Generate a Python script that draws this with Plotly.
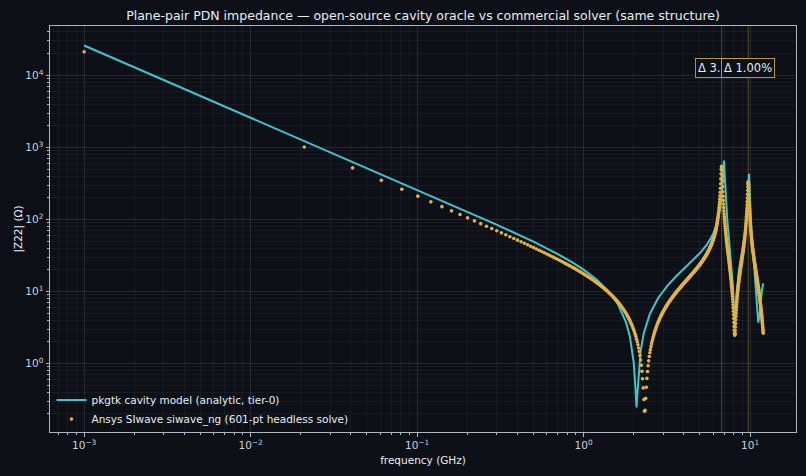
import math
import plotly.graph_objects as go

TITLE = "Plane-pair PDN impedance — open-source cavity oracle vs commercial solver (same structure)"
MODEL_NAME = "pkgtk cavity model (analytic, tier-0)"
SOLVER_NAME = "Ansys SIwave siwave_ng (601-pt headless solve)"
X_TITLE = "frequency (GHz)"
Y_TITLE = "|Z22| (Ω)"

# analytic cavity model (cyan line)
MODEL_FREQ_GHZ = [
    0.001, 0.01, 0.1, 0.2, 0.3, 0.5, 0.7, 0.85, 1.0, 1.2,
    1.4, 1.6, 1.8, 1.9, 2.0, 2.05, 2.08, 2.1, 2.15, 2.2,
    2.3, 2.5, 2.8, 3.2, 3.6, 4.0, 4.5, 5.0, 5.5, 6.0,
    6.3, 6.5, 6.6, 6.7, 6.75, 6.85, 6.9, 6.97, 7.0, 7.05,
    7.1, 7.2, 7.3, 7.45, 7.6, 7.75, 7.9, 8.0, 8.1, 8.2,
    8.3, 8.6, 9.0, 9.3, 9.5, 9.7, 9.8, 9.85, 9.9, 10.0,
    10.2, 10.5, 10.8, 11.0, 11.2, 11.4, 11.6, 11.8, 12.0,
]
MODEL_Z_OHM = [
    26000, 2600, 259.4, 128.8, 84.9, 49.1, 33.1, 25.6, 20.1, 14.6,
    10.3, 6.77, 3.72, 2.33, 1.04, 0.45, 0.245, 0.35, 0.89, 1.48,
    2.64, 4.88, 8.08, 12.2, 16.3, 20.7, 26.7, 34.2, 44.6, 62.7,
    84.2, 111.6, 135.8, 176.2, 208.5, 333.6, 465.3, 657, 583.5, 391.5,
    267.4, 150.6, 97.9, 57.9, 35.8, 21.4, 11.2, 6.03, 3.3, 5.49,
    9.2, 20.7, 38.6, 61.6, 94.0, 193.7, 359.6, 431, 343.4, 170.5,
    69.8, 28.9, 12.2, 5.5, 3.7, 4.6, 7.7, 10.5, 13.0,
]

# commercial solver sweep (orange dots), 601 points
SOLVER_FREQ_MHZ = [
    1, 21, 41, 61, 81, 101, 121, 141, 161, 181,
    201, 221, 241, 261, 281, 301, 321, 341, 361, 381,
    401, 421, 441, 461, 481, 501, 521, 541, 561, 581,
    601, 621, 641, 661, 681, 701, 721, 741, 761, 781,
    801, 821, 841, 861, 881, 901, 921, 941, 961, 981,
    1001, 1021, 1041, 1061, 1081, 1101, 1121, 1141, 1161, 1181,
    1201, 1221, 1241, 1261, 1281, 1301, 1321, 1341, 1361, 1381,
    1401, 1421, 1441, 1461, 1481, 1501, 1521, 1541, 1561, 1581,
    1601, 1621, 1641, 1661, 1681, 1701, 1721, 1741, 1761, 1781,
    1801, 1821, 1841, 1861, 1881, 1901, 1921, 1941, 1961, 1981,
    2001, 2021, 2041, 2061, 2081, 2101, 2121, 2141, 2161, 2181,
    2201, 2221, 2241, 2261, 2281, 2301, 2321, 2341, 2361, 2381,
    2401, 2421, 2441, 2461, 2481, 2501, 2521, 2541, 2561, 2581,
    2601, 2621, 2641, 2661, 2681, 2701, 2721, 2741, 2761, 2781,
    2801, 2821, 2841, 2861, 2881, 2901, 2921, 2941, 2961, 2981,
    3001, 3021, 3041, 3061, 3081, 3101, 3121, 3141, 3161, 3181,
    3201, 3221, 3241, 3261, 3281, 3301, 3321, 3341, 3361, 3381,
    3401, 3421, 3441, 3461, 3481, 3501, 3521, 3541, 3561, 3581,
    3601, 3621, 3641, 3661, 3681, 3701, 3721, 3741, 3761, 3781,
    3801, 3821, 3841, 3861, 3881, 3901, 3921, 3941, 3961, 3981,
    4001, 4021, 4041, 4061, 4081, 4101, 4121, 4141, 4161, 4181,
    4201, 4221, 4241, 4261, 4281, 4301, 4321, 4341, 4361, 4381,
    4401, 4421, 4441, 4461, 4481, 4501, 4521, 4541, 4561, 4581,
    4601, 4621, 4641, 4661, 4681, 4701, 4721, 4741, 4761, 4781,
    4801, 4821, 4841, 4861, 4881, 4901, 4921, 4941, 4961, 4981,
    5001, 5021, 5041, 5061, 5081, 5101, 5121, 5141, 5161, 5181,
    5201, 5221, 5241, 5261, 5281, 5301, 5321, 5341, 5361, 5381,
    5401, 5421, 5441, 5461, 5481, 5501, 5521, 5541, 5561, 5581,
    5601, 5621, 5641, 5661, 5681, 5701, 5721, 5741, 5761, 5781,
    5801, 5821, 5841, 5861, 5881, 5901, 5921, 5941, 5961, 5981,
    6001, 6021, 6041, 6061, 6081, 6101, 6121, 6141, 6161, 6181,
    6201, 6221, 6241, 6261, 6281, 6301, 6321, 6341, 6361, 6381,
    6401, 6421, 6441, 6461, 6481, 6501, 6521, 6541, 6561, 6581,
    6601, 6621, 6641, 6661, 6681, 6701, 6721, 6741, 6761, 6781,
    6801, 6821, 6841, 6861, 6881, 6901, 6921, 6941, 6961, 6981,
    7001, 7021, 7041, 7061, 7081, 7101, 7121, 7141, 7161, 7181,
    7201, 7221, 7241, 7261, 7281, 7301, 7321, 7341, 7361, 7381,
    7401, 7421, 7441, 7461, 7481, 7501, 7521, 7541, 7561, 7581,
    7601, 7621, 7641, 7661, 7681, 7701, 7721, 7741, 7761, 7781,
    7801, 7821, 7841, 7861, 7881, 7901, 7921, 7941, 7961, 7981,
    8001, 8021, 8041, 8061, 8081, 8101, 8121, 8141, 8161, 8181,
    8201, 8221, 8241, 8261, 8281, 8301, 8321, 8341, 8361, 8381,
    8401, 8421, 8441, 8461, 8481, 8501, 8521, 8541, 8561, 8581,
    8601, 8621, 8641, 8661, 8681, 8701, 8721, 8741, 8761, 8781,
    8801, 8821, 8841, 8861, 8881, 8901, 8921, 8941, 8961, 8981,
    9001, 9021, 9041, 9061, 9081, 9101, 9121, 9141, 9161, 9181,
    9201, 9221, 9241, 9261, 9281, 9301, 9321, 9341, 9361, 9381,
    9401, 9421, 9441, 9461, 9481, 9501, 9521, 9541, 9561, 9581,
    9601, 9621, 9641, 9661, 9681, 9701, 9721, 9741, 9761, 9781,
    9801, 9821, 9841, 9861, 9881, 9901, 9921, 9941, 9961, 9981,
    10001, 10021, 10041, 10061, 10081, 10101, 10121, 10141, 10161, 10181,
    10201, 10221, 10241, 10261, 10281, 10301, 10321, 10341, 10361, 10381,
    10401, 10421, 10441, 10461, 10481, 10501, 10521, 10541, 10561, 10581,
    10601, 10621, 10641, 10661, 10681, 10701, 10721, 10741, 10761, 10781,
    10801, 10821, 10841, 10861, 10881, 10901, 10921, 10941, 10961, 10981,
    11001, 11021, 11041, 11061, 11081, 11101, 11121, 11141, 11161, 11181,
    11201, 11221, 11241, 11261, 11281, 11301, 11321, 11341, 11361, 11381,
    11401, 11421, 11441, 11461, 11481, 11501, 11521, 11541, 11561, 11581,
    11601, 11621, 11641, 11661, 11681, 11701, 11721, 11741, 11761, 11781,
    11801, 11821, 11841, 11861, 11881, 11901, 11921, 11941, 11961, 11981,
    12001,
]
SOLVER_Z_OHM = [
    21300, 1014, 519.4, 349.0, 262.7, 210.5, 175.6, 150.5, 131.7, 117.0,
    105.2, 95.56, 87.49, 80.64, 74.76, 69.65, 65.17, 61.20, 57.66, 54.50,
    51.64, 49.03, 46.67, 44.49, 42.50, 40.66, 38.95, 37.37, 35.89, 34.51,
    33.21, 32.00, 30.85, 29.77, 28.76, 27.79, 26.87, 25.99, 25.17, 24.37,
    23.62, 22.89, 22.21, 21.54, 20.91, 20.29, 19.71, 19.14, 18.58, 18.06,
    17.54, 17.04, 16.57, 16.10, 15.66, 15.22, 14.80, 14.39, 13.99, 13.60,
    13.23, 12.86, 12.50, 12.15, 11.81, 11.48, 11.15, 10.83, 10.52, 10.22,
    9.92, 9.62, 9.34, 9.06, 8.78, 8.51, 8.24, 7.98, 7.73, 7.47,
    7.23, 6.98, 6.74, 6.51, 6.27, 6.04, 5.82, 5.59, 5.37, 5.16,
    4.94, 4.73, 4.52, 4.32, 4.11, 3.91, 3.71, 3.51, 3.31, 3.12,
    2.93, 2.74, 2.55, 2.37, 2.18, 2.00, 1.82, 1.64, 1.47, 1.29,
    1.12, 0.947, 0.781, 0.616, 0.459, 0.317, 0.218, 0.224, 0.329, 0.470,
    0.622, 0.776, 0.934, 1.09, 1.25, 1.41, 1.56, 1.72, 1.88, 2.04,
    2.19, 2.35, 2.50, 2.65, 2.81, 2.96, 3.11, 3.27, 3.42, 3.57,
    3.72, 3.87, 4.02, 4.17, 4.32, 4.47, 4.62, 4.77, 4.92, 5.07,
    5.22, 5.37, 5.52, 5.67, 5.81, 5.96, 6.11, 6.26, 6.41, 6.56,
    6.71, 6.86, 7.01, 7.16, 7.31, 7.46, 7.61, 7.76, 7.91, 8.06,
    8.21, 8.36, 8.51, 8.67, 8.82, 8.97, 9.12, 9.28, 9.43, 9.58,
    9.74, 9.90, 10.05, 10.21, 10.37, 10.52, 10.68, 10.84, 11.00, 11.16,
    11.32, 11.48, 11.65, 11.81, 11.97, 12.14, 12.31, 12.47, 12.64, 12.81,
    12.98, 13.15, 13.32, 13.50, 13.67, 13.84, 14.02, 14.20, 14.38, 14.56,
    14.74, 14.93, 15.11, 15.30, 15.49, 15.67, 15.87, 16.06, 16.26, 16.45,
    16.65, 16.85, 17.05, 17.26, 17.46, 17.67, 17.88, 18.10, 18.31, 18.53,
    18.74, 18.97, 19.20, 19.43, 19.65, 19.88, 20.12, 20.37, 20.61, 20.85,
    21.09, 21.35, 21.61, 21.87, 22.13, 22.39, 22.67, 22.95, 23.23, 23.51,
    23.79, 24.10, 24.40, 24.71, 25.01, 25.32, 25.65, 25.98, 26.32, 26.65,
    26.98, 27.35, 27.72, 28.09, 28.46, 28.83, 29.24, 29.65, 30.06, 30.47,
    30.88, 31.35, 31.81, 32.28, 32.74, 33.20, 33.74, 34.27, 34.80, 35.33,
    35.86, 36.48, 37.10, 37.71, 38.33, 38.94, 39.68, 40.41, 41.14, 41.86,
    42.59, 43.48, 44.36, 45.24, 46.12, 47.01, 48.11, 49.20, 50.30, 51.39,
    52.37, 53.62, 54.94, 56.33, 57.79, 59.34, 60.98, 62.72, 64.57, 66.54,
    68.65, 70.91, 73.33, 75.95, 78.77, 81.83, 85.16, 88.80, 92.78, 97.18,
    102.1, 107.5, 113.6, 120.4, 128.2, 137.2, 147.5, 159.7, 174.0, 191.3,
    212.2, 238.2, 270.9, 312.6, 365.4, 430.2, 499.2, 546.0, 537.6, 478.2,
    403.8, 337.3, 284.1, 242.6, 210.1, 184.2, 163.4, 146.3, 132.0, 120.0,
    109.9, 101.7, 94.17, 87.18, 80.72, 74.78, 70.19, 65.88, 61.84, 58.04,
    54.50, 51.53, 48.72, 46.07, 43.56, 41.18, 39.07, 37.07, 35.17, 33.37,
    31.67, 30.07, 28.56, 27.12, 25.75, 24.44, 23.17, 21.96, 20.82, 19.73,
    18.71, 17.65, 16.65, 15.70, 14.81, 13.96, 13.05, 12.20, 11.41, 10.66,
    9.96, 9.26, 8.57, 7.87, 7.19, 6.51, 5.92, 5.33, 4.76, 4.21,
    3.70, 3.28, 2.91, 2.64, 2.50, 2.50, 2.63, 2.88, 3.21, 3.61,
    4.06, 4.52, 5.01, 5.51, 6.02, 6.55, 7.08, 7.62, 8.16, 8.70,
    9.25, 9.82, 10.38, 10.95, 11.52, 12.09, 12.70, 13.30, 13.91, 14.51,
    15.12, 15.78, 16.43, 17.09, 17.75, 18.41, 19.15, 19.89, 20.62, 21.35,
    22.09, 22.94, 23.79, 24.63, 25.48, 26.33, 27.34, 28.35, 29.35, 30.36,
    31.37, 32.58, 33.82, 35.07, 36.34, 37.61, 39.23, 40.81, 42.43, 44.05,
    45.73, 47.68, 49.76, 51.99, 54.38, 56.98, 59.78, 62.82, 66.15, 69.80,
    73.83, 78.28, 83.25, 88.81, 95.07, 102.2, 110.4, 119.8, 130.7, 143.6,
    158.8, 177.0, 198.6, 224.1, 253.4, 284.6, 312.7, 329.7, 328.2, 308.9,
    279.7, 248.4, 219.4, 194.4, 173.2, 155.4, 140.6, 128.0, 117.3, 108.0,
    100.0, 93.68, 87.76, 82.22, 77.02, 72.21, 68.57, 65.10, 61.82, 58.70,
    55.75, 53.37, 51.10, 48.92, 46.84, 44.86, 43.19, 41.58, 40.03, 38.54,
    37.11, 35.86, 34.65, 33.48, 32.35, 31.27, 30.30, 29.36, 28.44, 27.56,
    26.70, 25.92, 25.16, 24.42, 23.70, 23.01, 22.36, 21.72, 21.11, 20.51,
    19.93, 19.38, 18.85, 18.33, 17.83, 17.34, 16.87, 16.41, 15.97, 15.53,
    15.11, 14.69, 14.29, 13.90, 13.51, 13.14, 12.78, 12.43, 12.08, 11.75,
    11.43, 11.10, 10.78, 10.47, 10.16, 9.87, 9.58, 9.30, 9.03, 8.77,
    8.52, 8.24, 7.98, 7.72, 7.47, 7.23, 7.00, 6.77, 6.55, 6.34,
    6.13, 5.90, 5.67, 5.46, 5.25, 5.05, 4.86, 4.67, 4.49, 4.32,
    4.16, 3.97, 3.80, 3.63, 3.46, 3.31, 3.16, 3.02, 2.88, 2.75,
    2.63,
]

# resonance markers (solver peaks) and their frequency-error labels
PEAK_FREQ_GHZ = [6.75, 9.75]
PEAK_LABELS = ["Δ 3.26%", "Δ 1.00%"]

X_TICKS = [1e-3, 1e-2, 1e-1, 1, 10]
X_TICK_TEXT = ["10<sup>−3</sup>", "10<sup>−2</sup>", "10<sup>−1</sup>", "10<sup>0</sup>", "10<sup>1</sup>"]
Y_TICKS = [1, 10, 100, 1000, 10000]
Y_TICK_TEXT = ["10<sup>0</sup>", "10<sup>1</sup>", "10<sup>2</sup>", "10<sup>3</sup>", "10<sup>4</sup>"]
X_MINOR = [m * 10.0 ** e for e in range(-4, 2) for m in range(2, 10)]
Y_MINOR = [m * 10.0 ** e for e in range(-1, 5) for m in range(2, 10)]

BG = "#0d1117"
FG = "#c9d1d9"
TXT = "#e6edf3"
SPINE = "#aeb6bf"
CYAN = "#3cc6d2"
GOLD = "#e3b341"
GRID = "rgba(255,255,255,0.10)"
MINOR_GRID = "rgba(255,255,255,0.045)"

fig = go.Figure()
fig.add_trace(go.Scatter(
    x=MODEL_FREQ_GHZ, y=MODEL_Z_OHM, mode="lines",
    line=dict(color=CYAN, width=2), name=MODEL_NAME,
))
fig.add_trace(go.Scatter(
    x=[m / 1000.0 for m in SOLVER_FREQ_MHZ], y=SOLVER_Z_OHM, mode="markers",
    marker=dict(color=GOLD, size=3.6, line=dict(width=0)), name=SOLVER_NAME,
))

for f in PEAK_FREQ_GHZ:
    fig.add_shape(type="line", xref="x", yref="paper", x0=f, x1=f, y0=0, y1=1,
                  line=dict(color="rgba(227,179,65,0.35)", width=1), layer="below")

for f, lab in zip(PEAK_FREQ_GHZ, PEAK_LABELS):
    fig.add_annotation(
        x=math.log10(f), xref="x", y=0.896, yref="paper", text=lab, showarrow=False,
        xanchor="center", yanchor="middle",
        font=dict(family="DejaVu Sans", size=11.5, color=TXT),
        bgcolor=BG, bordercolor="rgba(227,179,65,0.8)", borderwidth=1, borderpad=2,
    )

axis_common = dict(
    type="log", showline=True, linecolor=SPINE, linewidth=1, mirror=True,
    ticks="outside", ticklen=3.5, tickwidth=0.8, tickcolor=SPINE,
    tickmode="array", showgrid=True, gridcolor=GRID, gridwidth=0.8,
    zeroline=False, automargin=False,
    tickfont=dict(family="DejaVu Sans", size=10.5, color=FG),
)

fig.update_layout(
    template="none",
    width=806, height=476, autosize=False,
    margin=dict(l=50, r=10, t=26, b=44),
    paper_bgcolor=BG, plot_bgcolor=BG,
    font=dict(family="DejaVu Sans", size=10.5, color=FG),
    title=dict(text=TITLE, xref="paper", x=0.5, xanchor="center",
               yref="container", y=1 - 16 / 476, yanchor="middle",
               font=dict(family="DejaVu Sans", size=12.5, color=TXT)),
    showlegend=True,
    legend=dict(x=0.002, y=-0.004, xanchor="left", yanchor="bottom",
                bgcolor="rgba(0,0,0,0)", borderwidth=0,
                font=dict(family="DejaVu Sans", size=10.5, color=TXT),
                tracegroupgap=0, itemwidth=30),
    xaxis=dict(
        **axis_common, range=[-3.205, 1.276],
        tickvals=X_TICKS, ticktext=X_TICK_TEXT,
        minor=dict(tickmode="array", tickvals=X_MINOR, ticks="outside", ticklen=2,
                   tickcolor=SPINE, showgrid=True, gridcolor=MINOR_GRID, gridwidth=0.6),
        title=dict(text=X_TITLE, standoff=6, font=dict(family="DejaVu Sans", size=10.5, color=TXT)),
    ),
    yaxis=dict(
        **axis_common, range=[-0.95, 4.685],
        tickvals=Y_TICKS, ticktext=Y_TICK_TEXT,
        minor=dict(tickmode="array", tickvals=Y_MINOR, ticks="outside", ticklen=2,
                   tickcolor=SPINE, showgrid=True, gridcolor=MINOR_GRID, gridwidth=0.6),
        title=dict(text=Y_TITLE, standoff=0, font=dict(family="DejaVu Sans", size=10.5, color=TXT)),
    ),
)

fig.write_html("out.html")
